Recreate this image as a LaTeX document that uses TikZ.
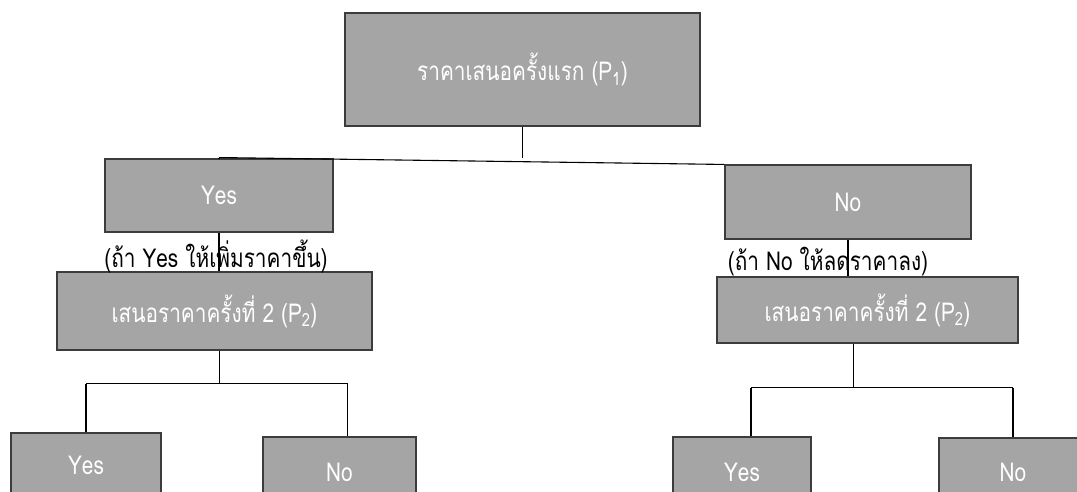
\documentclass[tikz,border=0pt]{standalone}
\usepackage{fontspec}
\newfontfamily\thaifont[Script=Thai,FakeStretch=0.8]{Loma}
\definecolor{boxgray}{RGB}{165,165,165}
\definecolor{boxedge}{RGB}{60,60,60}
\tikzset{
  box/.style={draw=boxedge, fill=boxgray, line width=1.1pt, text=white,
    font=\thaifont\fontsize{26}{30}\selectfont, inner sep=0pt},
  leaf/.style={box, text height=16pt, text depth=0pt},
  link/.style={draw=black, line width=1.1pt},
  note/.style={text=black, font=\thaifont\fontsize{26}{30}\selectfont, inner sep=0pt}
}
\begin{document}
\begin{tikzpicture}[x=1pt,y=-1pt]
\useasboundingbox (0,0) rectangle (1077,492);

% first offer
\node[box, minimum width=355, minimum height=113] (top) at (522.5,69.5) {ราคาเสนอครั้งแรก (P\textsubscript{1})};

% first answer
\node[box, minimum width=228, minimum height=73] (yes1) at (219,195.5) {Yes};
\node[box, minimum width=246, minimum height=74] (no1) at (848,202) {No};

% second offer
\node[box, minimum width=315, minimum height=78] (p2l) at (214.5,311) {เสนอราคาครั้งที่ 2 (P\textsubscript{2})};
\node[box, minimum width=301, minimum height=66] (p2r) at (867.5,310) {เสนอราคาครั้งที่ 2 (P\textsubscript{2})};

% second answer (boxes run past the lower edge)
\node[leaf, minimum width=150, minimum height=67] (yesl) at (86,466.5) {Yes};
\node[leaf, minimum width=153, minimum height=72] (nol) at (339.5,473) {No};
\node[leaf, minimum width=138, minimum height=72] (yesr) at (742,473) {Yes};
\node[leaf, minimum width=148, minimum height=70] (nor) at (1013,473) {No};

% branch from the first offer
\draw[link] (top.south) -- ++(0,31) coordinate (j0);
\draw[link] (yes1.north |- j0) -- (no1.north west);
\draw[link] (yes1.north |- j0) -- (yes1.north);

% answer to second offer
\draw[link] (yes1.south) -- (yes1.south |- p2l.north);
\draw[link] (no1.south) -- (no1.south |- p2r.north);

% notes on the links
\node[note] (notel) at (216,256) {(ถ้า Yes ให้เพิ่มราคาขึ้น)};
\node[note] (noter) at (828,262) {(ถ้า No ให้ลดราคาลง)};

% left branch of the second offer
\draw[link] ([xshift=5]p2l.south) -- ++(0,33) coordinate (jl);
\draw[link] (yesl.north |- jl) -- ([xshift=8]nol.north |- jl);
\draw[link] (yesl.north |- jl) -- (yesl.north);
\draw[link] ([xshift=8]nol.north |- jl) -- ([xshift=8]nol.north);

% right branch of the second offer
\draw[link] ([xshift=-14]p2r.south) -- ++(0,44) coordinate (jr);
\draw[link] ([xshift=9]yesr.north |- jr) -- (nor.north |- jr);
\draw[link] ([xshift=9]yesr.north |- jr) -- ([xshift=9]yesr.north);
\draw[link] (nor.north |- jr) -- (nor.north);
\end{tikzpicture}
\end{document}
